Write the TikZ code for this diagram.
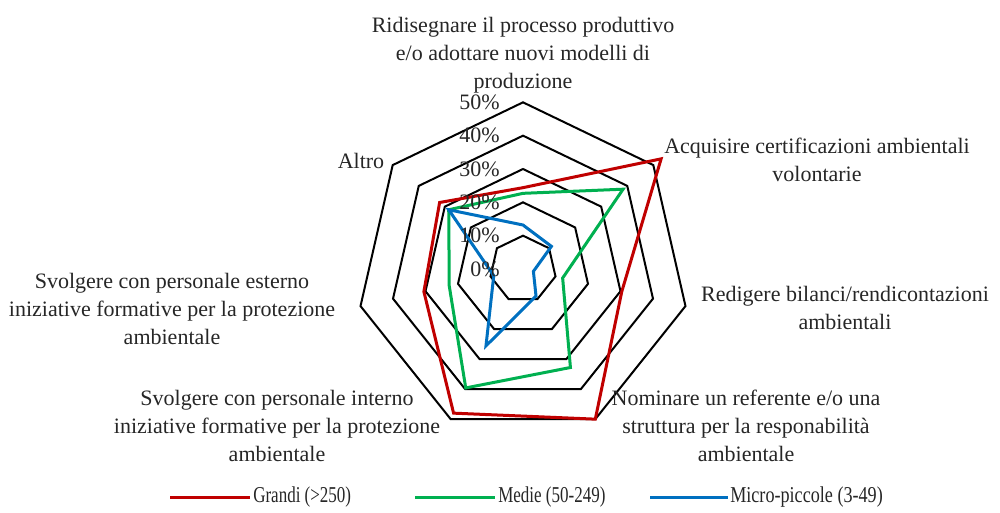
\documentclass[tikz,border=0pt]{standalone}
\usepackage{fontspec}
\setmainfont{Liberation Serif}
\definecolor{cred}{HTML}{C00000}
\definecolor{cgreen}{HTML}{00B050}
\definecolor{cblue}{HTML}{0070C0}
\definecolor{txt}{HTML}{262626}
\newcommand\radarseries[8]{%
  \draw[series,#1] (90:#2*3.3333) -- (38.5714:#3*3.3333) -- (-12.8571:#4*3.3333)
    -- (-64.2857:#5*3.3333) -- (-115.7143:#6*3.3333) -- (-167.1429:#7*3.3333)
    -- (141.4286:#8*3.3333) -- cycle;}
\begin{document}
\begin{tikzpicture}[x=0.75pt,y=0.75pt,
  ring/.style={draw=black, line width=1.5pt},
  series/.style={line width=2.25pt, line join=miter},
  lbl/.style={font=\fontsize{16.5}{21}\selectfont, text=txt, align=center, inner sep=0pt},
  pct/.style={font=\fontsize{16.5}{21}\selectfont, text=txt, anchor=east, inner sep=0pt},
  leg/.style={font=\fontsize{17}{21}\selectfont, text=txt, anchor=west, inner sep=0pt},
  legline/.style={line width=2.25pt}]
\useasboundingbox (0,0) rectangle (1000,512);
\coordinate (C) at (523,243);
\begin{scope}[shift={(523,243)}]
  \foreach \k in {1,...,5}{
    \draw[ring] (90:\k*33.3333) \foreach \i in {1,...,6}{ -- ({90-\i*360/7}:\k*33.3333)} -- cycle;
  }
  \radarseries{cred}{24.4}{53}{30.4}{50}{48}{30.5}{32}
  \radarseries{cgreen}{22.7}{38.4}{12.2}{32.8}{39.6}{22.7}{28.5}
  \radarseries{cblue}{13.2}{10.9}{3.2}{9}{25.6}{9}{28.5}
\end{scope}
\foreach \k/\t in {0/0\%,1/10\%,2/20\%,3/30\%,4/40\%,5/50\%}{
  \node[pct] (p\k) at (500,{243+\k*33.3333}) {\t};
}
\node[lbl] (top) at (523,457) {Ridisegnare il processo produttivo\\e/o adottare nuovi modelli di\\produzione};
\node[lbl] (acq) at (817,352) {Acquisire certificazioni ambientali\\volontarie};
\node[lbl] (red) at (845,204) {Redigere bilanci/rendicontazioni\\ambientali};
\node[lbl] (nom) at (746,86) {Nominare un referente e/o una\\struttura per la responabilità\\ambientale};
\node[lbl] (int) at (277,86) {Svolgere con personale interno\\iniziative formative per la protezione\\ambientale};
\node[lbl] (est) at (172,203) {Svolgere con personale esterno\\iniziative formative per la protezione\\ambientale};
\node[lbl] (alt) at (361,351) {Altro};
% legend
\coordinate (l1a) at (170,15); \coordinate (l1b) at (250,15);
\coordinate (l2a) at (415,15); \coordinate (l2b) at (495,15);
\coordinate (l3a) at (650,15); \coordinate (l3b) at (728,15);
\draw[legline,cred] (l1a) -- (l1b);
\draw[legline,cgreen] (l2a) -- (l2b);
\draw[legline,cblue] (l3a) -- (l3b);
\node[leg] (g1) at (253,15) {\scalebox{0.75}[1]{Grandi (>250)}};
\node[leg] (g2) at (498,15) {\scalebox{0.75}[1]{Medie (50-249)}};
\node[leg] (g3) at (730,15) {\scalebox{0.8}[1]{Micro-piccole (3-49)}};
\end{tikzpicture}
\end{document}
